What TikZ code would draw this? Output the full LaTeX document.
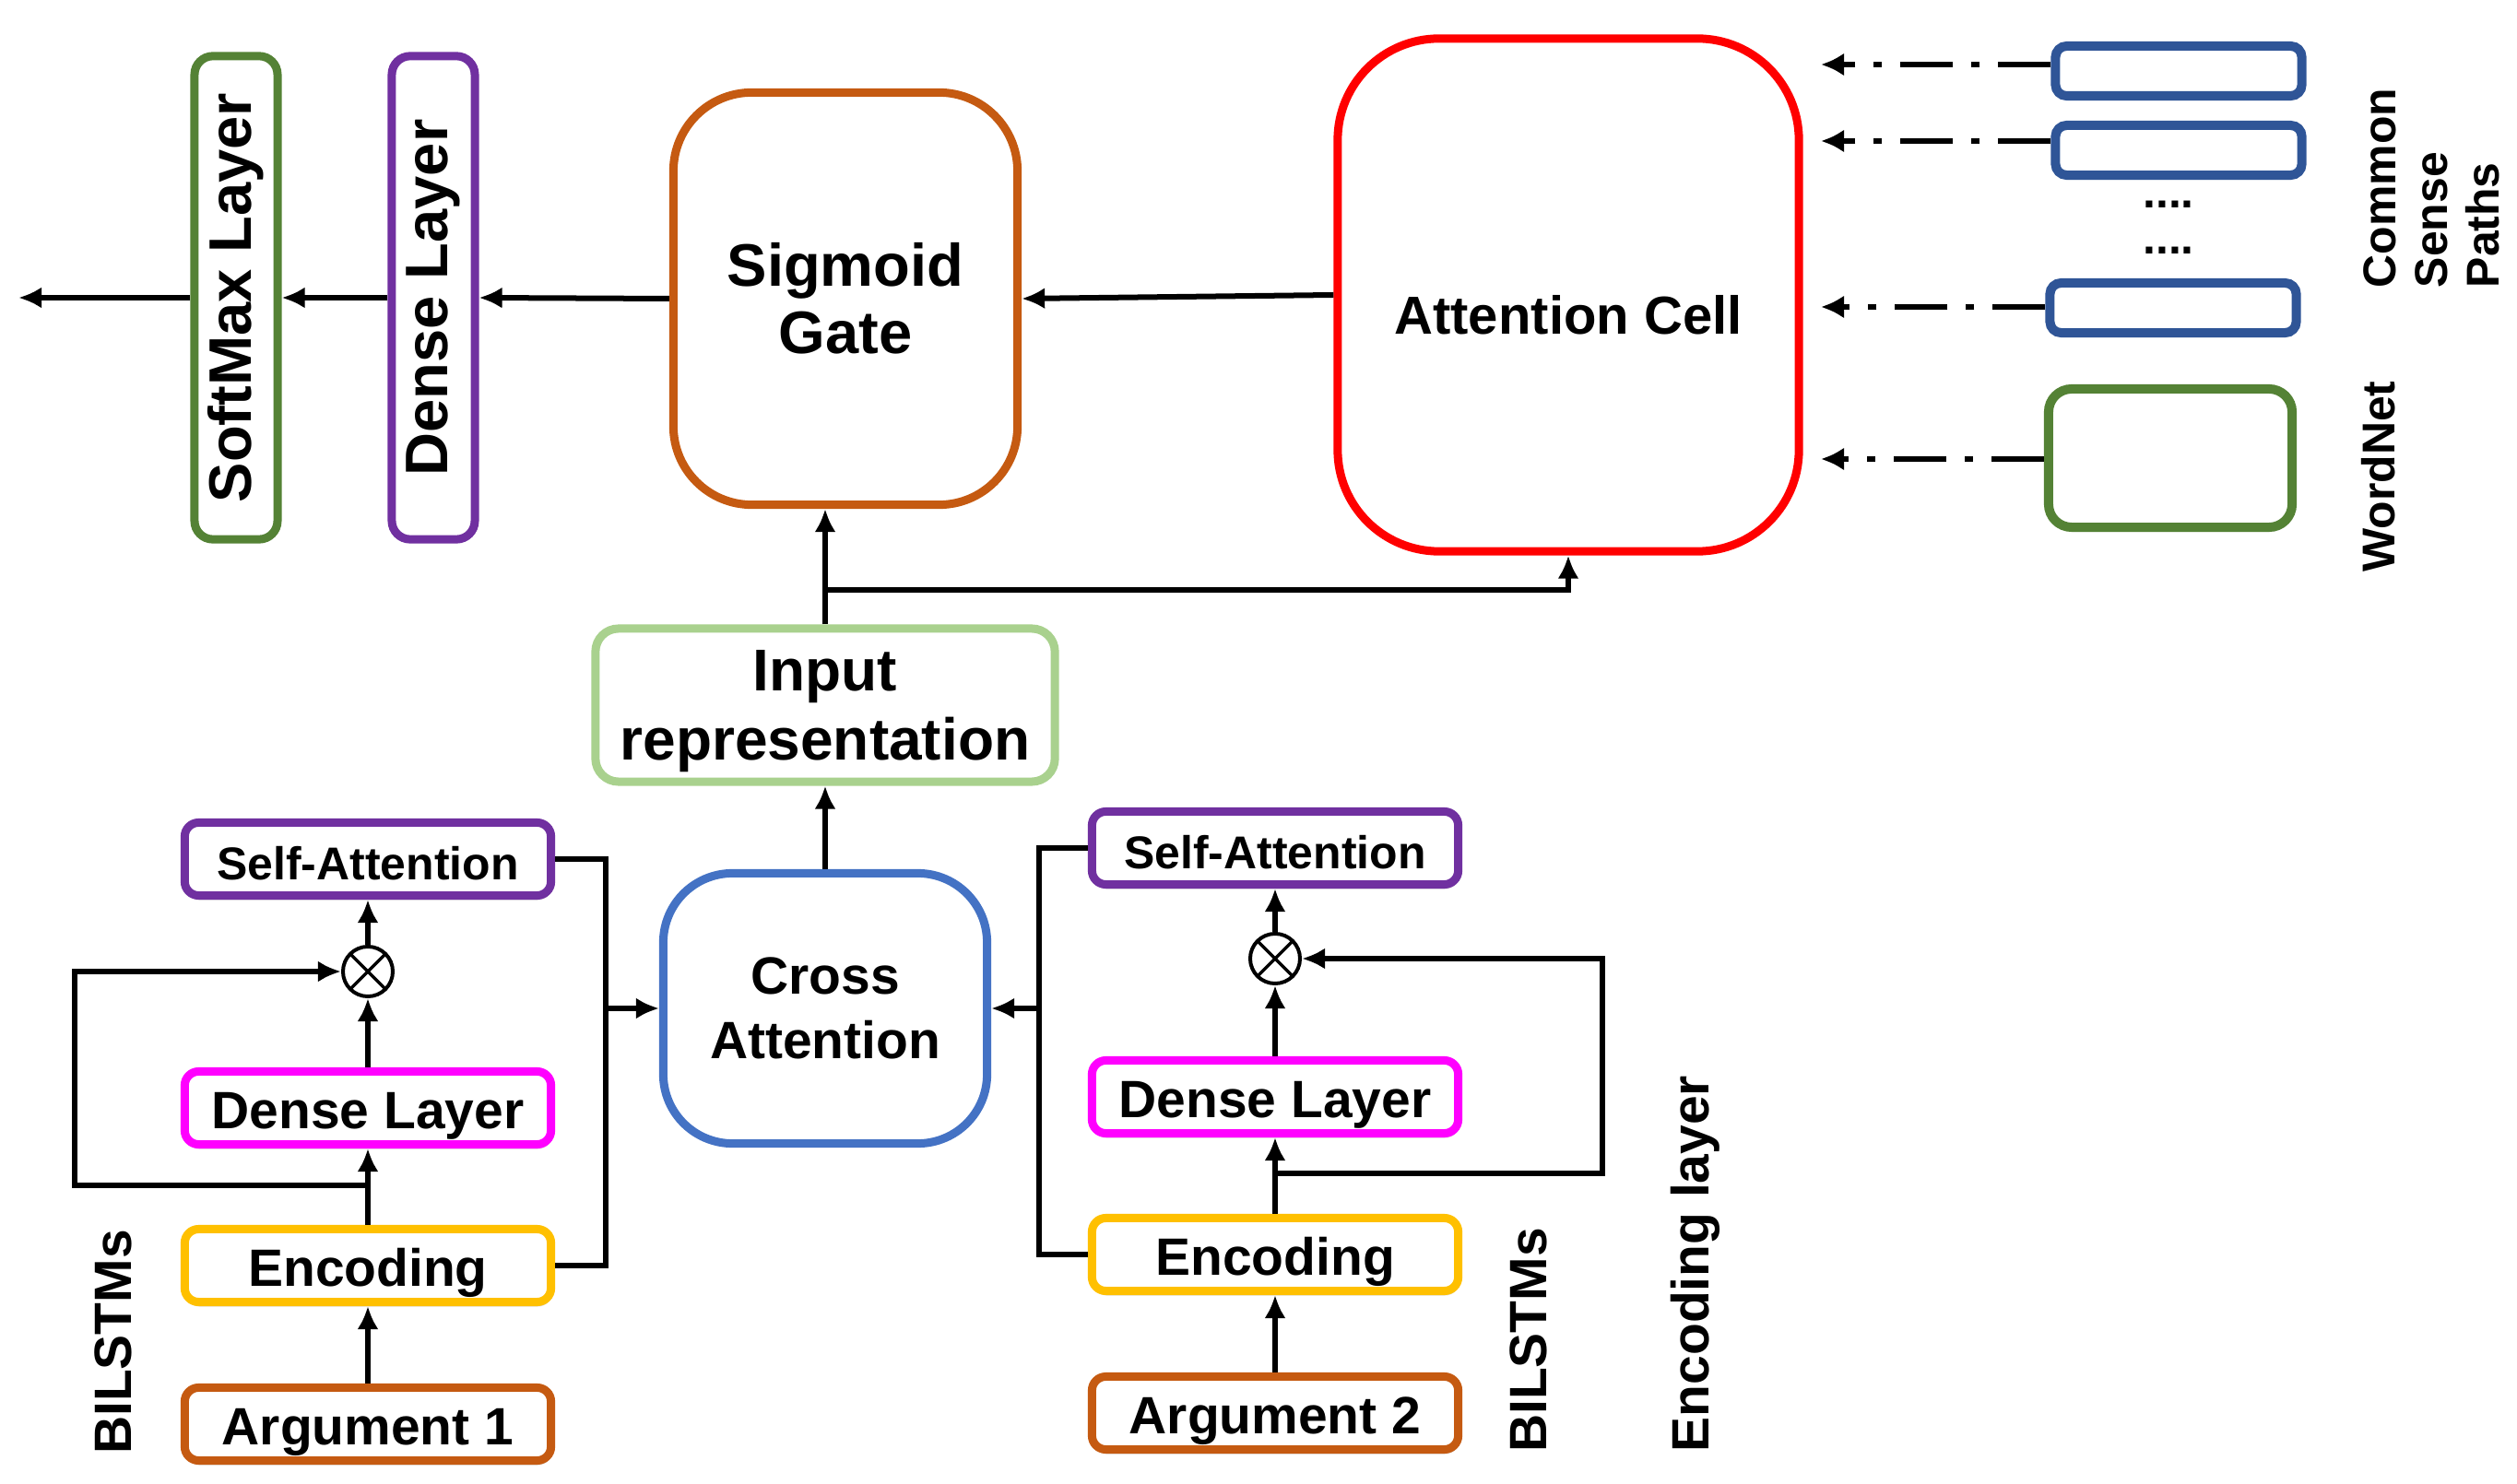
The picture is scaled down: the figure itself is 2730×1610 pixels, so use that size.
\documentclass[tikz,border=0pt]{standalone}
\usepackage{fontspec}
\setmainfont{Liberation Sans}
\usepackage{graphicx}
\usetikzlibrary{arrows.meta,shadows}

\definecolor{layergreen}{HTML}{548235}
\definecolor{layerpurple}{HTML}{7030A0}
\definecolor{gatebrown}{HTML}{C55A11}
\definecolor{cellred}{HTML}{FF0000}
\definecolor{pathblue}{HTML}{2F5597}
\definecolor{inputgreen}{HTML}{A9D18E}
\definecolor{crossblue}{HTML}{4472C4}
\definecolor{densepink}{HTML}{FF00FF}
\definecolor{encyellow}{HTML}{FFC000}

\begin{document}
\begin{tikzpicture}[x=0.01cm,y=-0.01cm]

\def\bordw{0.09cm}
\def\connw{0.06cm}
\def\hugefnt{\fontsize{18.5}{20.8}\selectfont\bfseries}
\def\inpfnt{\fontsize{18.2}{21.3}\selectfont\bfseries}
\def\cellfnt{\fontsize{16.5}{19}\selectfont\bfseries}
\def\midfnt{\fontsize{16.2}{19.9}\selectfont\bfseries}
\def\smallfnt{\fontsize{14.2}{15.9}\selectfont\bfseries}

\tikzset{box/.style = {draw, line width=\bordw, fill=white, align=center, inner sep=0pt}}
\tikzset{vbox/.style = {box, rounded corners=0.2cm, minimum width=0.9cm, minimum height=5.24cm, font=\hugefnt}}
\tikzset{smallbox/.style = {box, rounded corners=0.15cm, minimum width=3.97cm, minimum height=0.79cm,
  text height=13pt, text depth=0pt,
  drop shadow={opacity=0.25, shadow xshift=0.01cm, shadow yshift=-0.05cm}}}
\tikzset{pathbox/.style = {box, draw=pathblue, line width=0.1cm, rounded corners=0.12cm, minimum width=2.67cm, minimum height=0.54cm,
  drop shadow={opacity=0.25, shadow xshift=0.01cm, shadow yshift=-0.05cm}}}
\tikzset{otimes/.style = {draw, circle, fill=white, line width=0.04cm, minimum size=0.54cm, inner sep=0pt,
  path picture={\draw[line width=0.035cm] (path picture bounding box.south west) -- (path picture bounding box.north east)
    (path picture bounding box.north west) -- (path picture bounding box.south east);}}}
\tikzset{conn/.style = {line width=\connw, -{Latex[length=0.25cm,width=0.23cm]}}}
\tikzset{wire/.style = {line width=\connw}}
\tikzset{pathlink/.style = {line width=0.065cm, dash pattern=on 0.57cm off 0.2cm on 0.09cm off 0.2cm,
  -{Latex[length=0.25cm,width=0.25cm]}}}
\tikzset{sidelabel/.style = {rotate=90, inner sep=0pt}}

\useasboundingbox (0,0) rectangle (2730,1610);

% upper part
\node[vbox, draw=layergreen] (softmax) at (256,323) {\rotatebox{90}{SoftMax Layer}};
\node[vbox, draw=layerpurple] (densev) at (470,323) {\rotatebox{90}{Dense Layer}};
\node[box, draw=gatebrown, rounded corners=0.85cm, minimum width=3.73cm, minimum height=4.47cm, font=\hugefnt] (sigmoid) at (917,324) {Sigmoid\\Gate};
\node[box, draw=cellred, rounded corners=1.1cm, minimum width=5.0cm, minimum height=5.56cm, font=\cellfnt,
  text height=0.85cm, text depth=0pt] (attcell) at (1701,320) {Attention Cell};

\node[pathbox] (cs1) at (2363,77) {};
\node[pathbox] (cs2) at (2363,163) {};
\node[font=\smallfnt, anchor=base] (dots1) at (2352,226) {....};
\node[font=\smallfnt, anchor=base] (dots2) at (2352,276) {....};
\node[pathbox] (cs3) at (2357,334) {};
\node[box, draw=layergreen, line width=0.1cm, rounded corners=0.25cm, minimum width=2.64cm, minimum height=1.5cm,
  drop shadow={opacity=0.25, shadow xshift=0.01cm, shadow yshift=-0.05cm}] (wordnet) at (2354,497) {};

\node[sidelabel, font=\smallfnt, align=left, anchor=west] (cspaths) at (2637,313) {Common\\Sense\\Paths};
\node[sidelabel, font=\smallfnt] (wnlabel) at (2580,517) {WordNet};

\coordinate (outp) at (20,323);
\coordinate (cin1) at (1975,70);
\coordinate (cin2) at (1975,153);
\coordinate (cin3) at (1975,333);
\coordinate (cin4) at (1975,498);

\draw[conn] (sigmoid.west) -- (densev.east);
\draw[conn] (densev.west) -- (softmax.east);
\draw[conn] (softmax.west) -- (outp);
\draw[conn] (attcell.west) -- (sigmoid.east);

\draw[pathlink] (cin1 -| cs1.west) -- (cin1);
\draw[pathlink] (cin2 -| cs2.west) -- (cin2);
\draw[pathlink] (cin3 -| cs3.west) -- (cin3);
\draw[pathlink] (cin4 -| wordnet.west) -- (cin4);

% middle
\node[box, draw=inputgreen, rounded corners=0.25cm, minimum width=4.98cm, minimum height=1.66cm, font=\inpfnt,
  text depth=0pt] (inrep) at (895,765) {Input\\representation};
\node[box, draw=crossblue, rounded corners=0.75cm, minimum width=3.51cm, minimum height=2.93cm, font=\midfnt,
  text depth=0pt] (cross) at (895,1094) {Cross\\Attention};

\coordinate (tap3) at (895,640);
\draw[conn] (inrep.north) -- (inrep.north |- sigmoid.south);
\draw[conn] (tap3) -| (attcell.south);
\draw[conn] (cross.north) -- (inrep.south);

% argument 1
\node[smallbox, draw=layerpurple, font=\smallfnt] (sa1) at (399,932) {Self-Attention};
\node[otimes] (ot1) at (399,1054) {};
\node[smallbox, draw=densepink, font=\midfnt] (dl1) at (399,1202) {Dense Layer};
\node[smallbox, draw=encyellow, font=\midfnt] (en1) at (399,1373) {Encoding};
\node[smallbox, draw=gatebrown, font=\midfnt] (ar1) at (399,1545) {Argument 1};
\node[sidelabel, font=\midfnt] (bil1) at (123,1456) {BILSTMs};

\coordinate (tap1) at (399,1286);
\coordinate (jn1) at (657,1094);
\draw[conn] (ar1.north) -- (en1.south);
\draw[conn] (en1.north) -- (dl1.south);
\draw[conn] (dl1.north) -- (ot1.south);
\draw[conn] (ot1.north) -- (sa1.south);
\draw[conn] (tap1) -- ++(-318,0) |- (ot1.west);
\draw[wire] (sa1.east) -| (jn1) |- (en1.east);
\draw[conn] (jn1) -- (cross.west);

% argument 2
\node[smallbox, draw=layerpurple, font=\smallfnt] (sa2) at (1383,920) {Self-Attention};
\node[otimes] (ot2) at (1383,1040) {};
\node[smallbox, draw=densepink, font=\midfnt] (dl2) at (1383,1190) {Dense Layer};
\node[smallbox, draw=encyellow, font=\midfnt] (en2) at (1383,1361) {Encoding};
\node[smallbox, draw=gatebrown, font=\midfnt] (ar2) at (1383,1533) {Argument 2};
\node[sidelabel, font=\midfnt] (bil2) at (1658,1454) {BILSTMs};
\node[sidelabel, font=\midfnt] (enclayer) at (1839,1371) {Encoding layer};

\coordinate (tap2) at (1383,1273);
\coordinate (jn2) at (1127,1094);
\draw[conn] (ar2.north) -- (en2.south);
\draw[conn] (en2.north) -- (dl2.south);
\draw[conn] (dl2.north) -- (ot2.south);
\draw[conn] (ot2.north) -- (sa2.south);
\draw[conn] (tap2) -- ++(355,0) |- (ot2.east);
\draw[wire] (sa2.west) -| (jn2) |- (en2.west);
\draw[conn] (jn2) -- (cross.east);

\end{tikzpicture}
\end{document}
